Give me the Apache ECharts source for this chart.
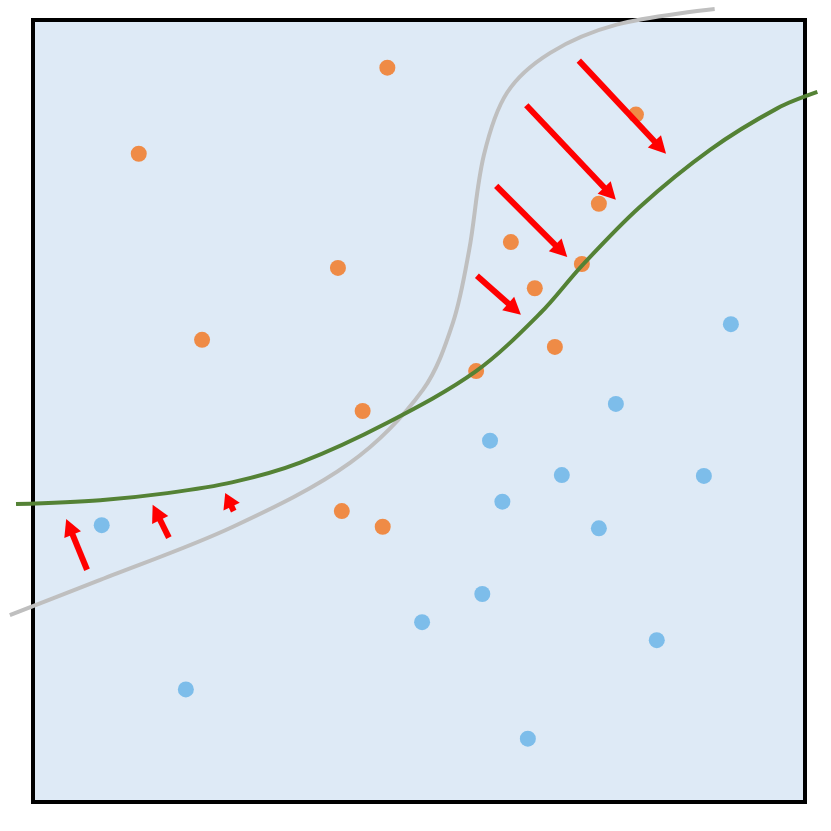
<!DOCTYPE html>
<html>
<head>
<meta charset="utf-8">
<title>scatter</title>
<script src="https://cdn.jsdelivr.net/npm/echarts@6/dist/echarts.min.js"></script>
<style>
  html, body { margin: 0; padding: 0; background: #fff; }
  #chart { width: 831px; height: 831px; }
</style>
</head>
<body>
<div id="chart"></div>
<script>
// class A points (orange)
const orangePoints = [
  [4.59, 9.39], [1.37, 8.29], [3.95, 6.83], [2.19, 5.91], [4.27, 5.00],
  [4.00, 3.72], [4.53, 3.52], [7.81, 8.79], [7.33, 7.65], [6.19, 7.16],
  [7.11, 6.88], [6.50, 6.57], [6.76, 5.82], [5.74, 5.51]
]
// class B points (blue)
const bluePoints = [
  [0.89, 3.54], [1.98, 1.44], [9.04, 6.11], [7.55, 5.09], [5.92, 4.62],
  [6.85, 4.18], [8.69, 4.17], [6.08, 3.84], [7.33, 3.50], [5.82, 2.66],
  [5.04, 2.30], [8.08, 2.07], [6.41, 0.81]
]
// old boundary (gray)
const oldBoundary = [
  [-0.30, 2.39], [0.87, 2.84], [2.59, 3.52], [4.11, 4.34], [5.05, 5.27],
  [5.44, 6.13], [5.65, 7.06], [5.84, 8.27], [6.14, 9.07], [6.70, 9.58],
  [7.56, 9.94], [8.83, 10.14]
]
// new boundary (green)
const newBoundary = [
  [-0.22, 3.81], [0.87, 3.86], [1.74, 3.95], [2.59, 4.09], [3.46, 4.34],
  [4.59, 4.85], [5.74, 5.51], [6.57, 6.25], [7.12, 6.87], [7.86, 7.61],
  [8.77, 8.34], [9.64, 8.87], [10.16, 9.08]
]
// arrows: [fromX, fromY, toX, toY]
const shiftArrows = [
  [7.07, 9.48, 8.20, 8.29],
  [6.39, 8.91, 7.55, 7.70],
  [6.00, 7.88, 6.92, 6.97],
  [5.75, 6.73, 6.32, 6.23],
  [0.70, 2.97, 0.43, 3.62],
  [1.76, 3.38, 1.55, 3.80],
  [2.60, 3.72, 2.49, 3.95]
]
// plot box corners
const boxCorners = [[0, 0], [10, 10]]

const chartIns = echarts.init(document.getElementById('chart'))

function renderArrow (params, api) {
  const p0 = api.coord([api.value(0), api.value(1)])
  const p1 = api.coord([api.value(2), api.value(3)])
  const dx = p1[0] - p0[0]
  const dy = p1[1] - p0[1]
  const len = Math.sqrt(dx * dx + dy * dy)
  const ux = dx / len
  const uy = dy / len
  const headLen = Math.min(17, len * 0.75)
  const headW = 9
  const bx = p1[0] - ux * headLen
  const by = p1[1] - uy * headLen
  return {
    type: 'group',
    children: [
      {
        type: 'line',
        shape: { x1: p0[0], y1: p0[1], x2: bx + ux * 2, y2: by + uy * 2 },
        style: { stroke: '#ff0000', lineWidth: 6 }
      },
      {
        type: 'polygon',
        shape: {
          points: [
            [p1[0], p1[1]],
            [bx - uy * headW, by + ux * headW],
            [bx + uy * headW, by - ux * headW]
          ]
        },
        style: { fill: '#ff0000' }
      }
    ]
  }
}

const options = {
  animation: false,
  grid: {
    left: 2.12,
    right: 2.84,
    top: 4.36,
    bottom: 13.36
  },
  xAxis: {
    type: 'value',
    min: -0.4,
    max: 10.3,
    show: false
  },
  yAxis: {
    type: 'value',
    min: -0.2,
    max: 10.2,
    show: false
  },
  series: [
    {
      // box with background
      type: 'scatter',
      data: [],
      z: 1,
      markArea: {
        silent: true,
        itemStyle: {
          color: '#deeaf6',
          borderColor: '#000',
          borderWidth: 4
        },
        data: [[{ coord: boxCorners[0] }, { coord: boxCorners[1] }]]
      }
    },
    {
      type: 'scatter',
      data: orangePoints,
      symbolSize: 16,
      itemStyle: { color: '#ef8b46', opacity: 1 },
      z: 2
    },
    {
      type: 'scatter',
      data: bluePoints,
      symbolSize: 16,
      itemStyle: { color: '#7dbdea', opacity: 1 },
      z: 2
    },
    {
      type: 'line',
      data: oldBoundary,
      smooth: 0.33,
      showSymbol: false,
      clip: false,
      lineStyle: { color: '#bfbfbf', width: 4 },
      z: 3
    },
    {
      type: 'line',
      data: newBoundary,
      smooth: 0.33,
      showSymbol: false,
      clip: false,
      lineStyle: { color: '#548235', width: 4 },
      z: 3
    },
    {
      type: 'custom',
      data: shiftArrows,
      renderItem: renderArrow,
      clip: false,
      z: 4
    }
  ]
}

chartIns.setOption(options)
</script>
</body>
</html>
